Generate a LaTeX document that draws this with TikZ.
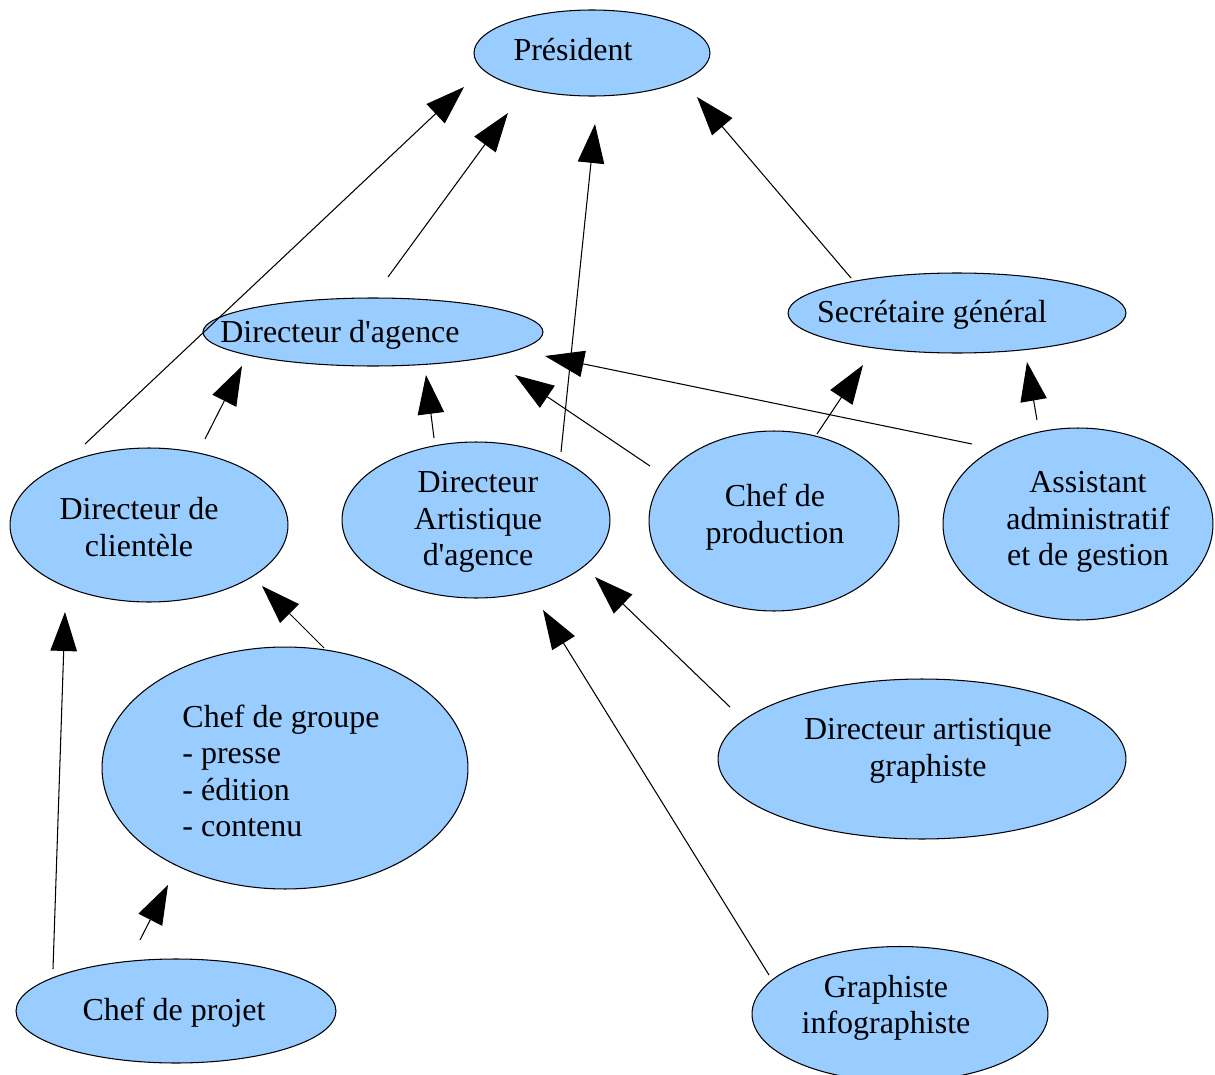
\documentclass[tikz,border=0pt]{standalone}
\usepackage{fontspec}
\setmainfont{Liberation Serif}[Ligatures=TeXOff]
\usetikzlibrary{shapes.geometric,arrows.meta}
\definecolor{bub}{HTML}{99CCFF}
\begin{document}
\begin{tikzpicture}[x=0.02cm,y=-0.02cm,
  bubble/.style={ellipse,draw=black,line width=0.6pt,fill=bub,inner sep=0pt},
  txt/.style={inner sep=0pt,font=\fontsize{18.2}{20.7}\selectfont,align=center},
  conn/.style={line width=0.6pt,-{Triangle[length=0.78cm,width=0.53cm]}}]
\useasboundingbox (0,0) rectangle (1215,1075);
\node[bubble,minimum width=4.72cm,minimum height=1.72cm] (pres) at (592,53) {};
\node[bubble,minimum width=6.8cm,minimum height=1.36cm] (dag) at (373,332) {};
\node[bubble,minimum width=6.76cm,minimum height=1.6cm] (sec) at (957,313) {};
\node[bubble,minimum width=5.56cm,minimum height=3.08cm] (dcl) at (149,525) {};
\node[bubble,minimum width=5.36cm,minimum height=3.12cm] (dart) at (476,520) {};
\node[bubble,minimum width=5.0cm,minimum height=3.6cm] (cprod) at (774,521) {};
\node[bubble,minimum width=5.4cm,minimum height=3.84cm] (asst) at (1078,524) {};
\node[bubble,minimum width=7.32cm,minimum height=4.84cm] (cgr) at (285,768) {};
\node[bubble,minimum width=8.16cm,minimum height=3.2cm] (dag2) at (922,759) {};
\node[bubble,minimum width=6.4cm,minimum height=2.08cm] (cpj) at (176,1011) {};
\node[bubble,minimum width=5.92cm,minimum height=2.7cm] (gra) at (900,1014) {};
% texts
\node[txt] (presT) at ([shift={(-19,-3)}]pres) {Président};
\node[txt] (dagT) at ([shift={(-33,3)}]dag) {Directeur d'agence};
\node[txt] (secT) at ([shift={(-25,2)}]sec) {Secrétaire général};
\node[txt] (dclT) at ([shift={(-10,2)}]dcl) {Directeur de\\clientèle};
\node[txt] (dartT) at ([shift={(2,2)}]dart) {Directeur\\Artistique\\d'agence};
\node[txt] (cprodT) at ([shift={(1,-4)}]cprod) {Chef de\\production};
\node[txt] (asstT) at ([shift={(10,-2)}]asst) {Assistant\\administratif\\et de gestion};
\node[txt,align=left] (cgrT) at ([shift={(-4,3)}]cgr) {Chef de groupe\\- presse\\- édition\\- contenu};
\node[txt] (dag2T) at ([shift={(6,-8)}]dag2) {Directeur artistique\\graphiste};
\node[txt] (cpjT) at ([shift={(-2,2)}]cpj) {Chef de projet};
\node[txt] (graT) at ([shift={(-14,-6)}]gra) {Graphiste\\infographiste};
% connector ends
\coordinate (a1s) at (85,444);   \coordinate (a1e) at (464,87);
\coordinate (a2s) at (388,277);  \coordinate (a2e) at (508,113);
\coordinate (a3s) at (561,452);  \coordinate (a3e) at (595,124);
\coordinate (a4s) at (851,278);  \coordinate (a4e) at (697,97);
\coordinate (a5s) at (205,439);  \coordinate (a5e) at (242,366);
\coordinate (a6s) at (434,438);  \coordinate (a6e) at (426,375);
\coordinate (a7s) at (650,466);  \coordinate (a7e) at (515,375);
\coordinate (a8s) at (972,444);  \coordinate (a8e) at (545,356);
\coordinate (a9s) at (817,434);  \coordinate (a9e) at (863,365);
\coordinate (a10s) at (1037,420); \coordinate (a10e) at (1027,362);
\coordinate (a11s) at (324,648); \coordinate (a11e) at (262,586);
\coordinate (a12s) at (53,969);  \coordinate (a12e) at (65,612);
\coordinate (a13s) at (140,940); \coordinate (a13e) at (168,885);
\coordinate (a14s) at (730,707); \coordinate (a14e) at (595,577);
\coordinate (a15s) at (769,975); \coordinate (a15e) at (543,610);
\foreach \i in {1,...,15}{\draw[conn] (a\i s) -- (a\i e);}
\end{tikzpicture}
\end{document}
